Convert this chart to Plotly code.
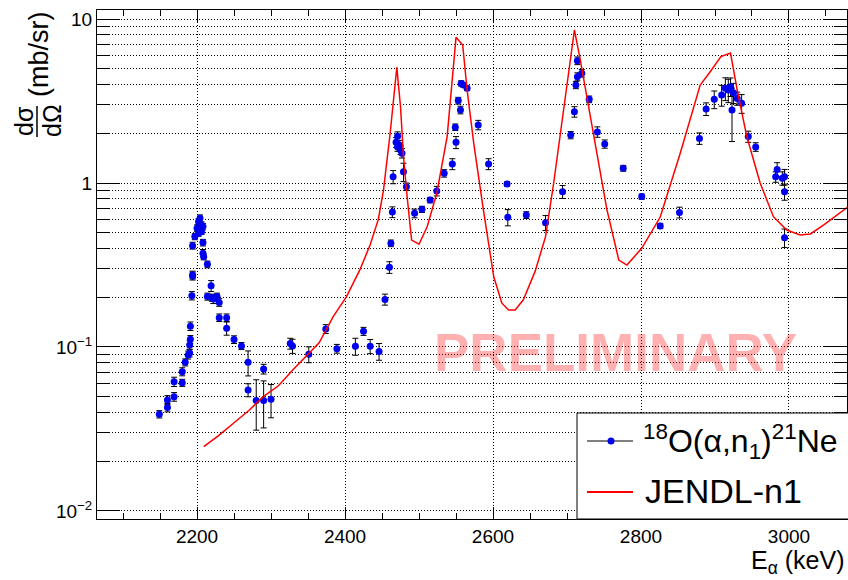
import plotly.graph_objects as go

# Measured differential cross section, 18O(alpha,n1)21Ne
e_alpha = [2149, 2160, 2160, 2169, 2169, 2180, 2180, 2184, 2188, 2190, 2190, 2191, 2191,
           2193, 2194, 2194, 2194, 2197, 2200, 2202, 2204, 2206, 2202, 2206, 2208, 2208,
           2208, 2209, 2214, 2214, 2219, 2220, 2222, 2227, 2230, 2230, 2240, 2240, 2250,
           2260, 2269, 2269, 2280, 2290, 2290, 2300, 2326, 2329, 2351, 2374, 2389, 2414,
           2425, 2434, 2446, 2454, 2460, 2462, 2464, 2465, 2469, 2471, 2471, 2474, 2475,
           2477, 2479, 2483, 2494, 2504, 2515, 2524, 2534, 2545, 2550, 2549, 2556, 2553,
           2557, 2560, 2565, 2580, 2594, 2619, 2620, 2645, 2671, 2694, 2705, 2710, 2712,
           2714, 2714, 2720, 2730, 2741, 2751, 2776, 2801, 2826, 2852, 2879, 2888, 2899,
           2909, 2914, 2918, 2921, 2923, 2925, 2930, 2936, 2945, 2955, 2982, 2984, 2991,
           2994, 2994, 2994]
xsec = [0.0389, 0.0427, 0.0475, 0.0497, 0.0614, 0.0605, 0.0707, 0.0806, 0.0894, 0.0918,
        0.1028, 0.1114, 0.134, 0.2056, 0.271, 0.275, 0.415, 0.471, 0.530, 0.581, 0.609,
        0.555, 0.493, 0.505, 0.542, 0.433, 0.373, 0.355, 0.319, 0.203, 0.236, 0.200, 0.196,
        0.203, 0.187, 0.151, 0.151, 0.130, 0.111, 0.1014, 0.0806, 0.0547, 0.0471, 0.0471,
        0.0734, 0.048, 0.105, 0.1014, 0.0902, 0.1288, 0.0977, 0.101, 0.1247, 0.101, 0.094,
        0.195, 0.306, 0.429, 0.665, 1.09, 1.77, 1.93, 1.66, 1.70, 1.59, 1.52, 1.17, 0.95,
        0.653, 0.691, 0.787, 0.894, 1.146, 1.306, 1.77, 2.19, 2.79, 3.18, 4.05, 3.96, 3.78,
        2.26, 1.306, 0.986, 0.618, 0.638, 0.573, 0.885, 1.96, 2.72, 3.96, 4.45, 5.57, 4.67,
        3.24, 2.05, 1.73, 1.23, 0.826, 0.547, 0.662, 1.87, 2.83, 3.24, 3.44, 3.78, 3.69,
        3.87, 2.79, 3.55, 3.28, 3.06, 1.92, 1.66, 1.09, 1.21, 1.07, 1.09, 0.885, 0.464]
xsec_err = [0.002, 0.0025, 0.003, 0.003, 0.004, 0.003, 0.004, 0.004, 0.005, 0.005, 0.006,
            0.006, 0.008, 0.012, 0.015, 0.015, 0.02, 0.02, 0.025, 0.025, 0.03, 0.025, 0.02,
            0.02, 0.025, 0.02, 0.02, 0.015, 0.015, 0.01, 0.018, 0.01, 0.012, 0.01, 0.01,
            0.008, 0.008, 0.012, 0.006, 0.005, 0.014, 0.005, 0.016, 0.015, 0.005, 0.011,
            0.008, 0.01, 0.01, 0.008, 0.006, 0.012, 0.007, 0.01, 0.011, 0.015, 0.025, 0.02,
            0.05, 0.1, 0.12, 0.12, 0.1, 0.12, 0.1, 0.1, 0.15, 0.05, 0.04, 0.03, 0.03, 0.06,
            0.06, 0.1, 0.15, 0.1, 0.15, 0.15, 0.15, 0.12, 0.12, 0.15, 0.1, 0.03, 0.07, 0.03,
            0.06, 0.08, 0.1, 0.2, 0.2, 0.25, 0.3, 0.25, 0.15, 0.15, 0.1, 0.05, 0.03, 0.02,
            0.05, 0.15, 0.25, 0.4, 0.5, 0.6, 0.6, 0.5, 1.0, 0.5, 0.3, 0.4, 0.15, 0.1, 0.08,
            0.12, 0.1, 0.12, 0.1, 0.06]

# JENDL evaluation, n1 channel
jendl_e = [2209, 2230, 2250, 2270, 2290, 2310, 2330, 2350, 2365, 2384, 2402, 2420, 2434,
           2445, 2452, 2461, 2470, 2475, 2479, 2483, 2490, 2500, 2511, 2524, 2538, 2550,
           2559, 2565, 2574, 2587, 2601, 2612, 2621, 2630, 2641, 2657, 2671, 2682, 2695,
           2710, 2718, 2727, 2741, 2754, 2770, 2781, 2801, 2826, 2853, 2880, 2894, 2908,
           2921, 2930, 2943, 2961, 2979, 2997, 3015, 3029, 3047, 3065, 3080]
jendl_xs = [0.0247, 0.029, 0.0345, 0.041, 0.050, 0.058, 0.073, 0.090, 0.106, 0.153, 0.203,
            0.295, 0.42, 0.60, 0.906, 2.01, 5.08, 2.92, 1.45, 0.906, 0.449, 0.423, 0.541,
            0.866, 1.92, 7.73, 6.94, 3.69, 1.74, 0.685, 0.268, 0.185, 0.168, 0.168, 0.194,
            0.29, 0.471, 1.0, 2.79, 8.57, 5.62, 3.36, 1.52, 0.685, 0.339, 0.316, 0.40, 0.62,
            1.52, 3.96, 4.8, 5.9, 6.2, 3.69, 1.92, 1.0, 0.623, 0.517, 0.482, 0.489, 0.555,
            0.638, 0.717]

x_major = [2200, 2400, 2600, 2800, 3000]
y_major = [0.01, 0.1, 1, 10]
y_major_text = ["10<sup>\u22122</sup>", "10<sup>\u22121</sup>", "1", "10"]
y_minor = [m * d for d in (0.01, 0.1, 1) for m in range(2, 10)]

W, H = 848, 580
ML, MR, MT, MB = 97, 1, 10, 61
PW, PH = W - ML - MR, H - MT - MB


def px(x):
    return (x - ML) / PW


def py(y):
    return (H - MB - y) / PH


FONT = "Liberation Sans, Arial, Helvetica, sans-serif"

fig = go.Figure()
fig.add_trace(go.Scatter(
    x=e_alpha, y=xsec, mode="markers",
    marker=dict(color="#0000f0", size=7, line=dict(width=0)),
    error_y=dict(type="data", array=xsec_err, color="black", thickness=1, width=3),
    showlegend=False,
))
fig.add_trace(go.Scatter(
    x=jendl_e, y=jendl_xs, mode="lines",
    line=dict(color="#ff0000", width=1.5),
    showlegend=False,
))

dotted = "1px,2px"
fig.update_xaxes(
    range=[2064.8, 3078.4],
    tickmode="array", tickvals=x_major,
    ticks="inside", ticklen=12, tickcolor="black", tickwidth=1,
    minor=dict(dtick=50, tick0=2000, ticks="inside", ticklen=6, tickcolor="black",
               showgrid=False),
    showgrid=True, gridcolor="black", gridwidth=1, griddash=dotted,
    showline=True, linecolor="black", linewidth=1, mirror="allticks",
    zeroline=False,
    tickfont=dict(family=FONT, size=19, color="black"),
)
fig.update_yaxes(
    type="log", range=[-2.049, 1.055],
    tickmode="array", tickvals=y_major, ticktext=y_major_text,
    ticks="inside", ticklen=23, tickcolor="black", tickwidth=1,
    minor=dict(tickmode="array", tickvals=y_minor, ticks="inside", ticklen=13,
               tickcolor="black", showgrid=True, gridcolor="black", griddash=dotted,
               gridwidth=1),
    showgrid=True, gridcolor="black", gridwidth=1, griddash=dotted,
    showline=True, linecolor="black", linewidth=1, mirror="allticks",
    zeroline=False,
    tickfont=dict(family=FONT, size=19, color="black"),
)

shapes = []
annotations = []

# Y-axis title: fraction dsigma/dOmega followed by units
shapes.append(dict(type="line", xref="paper", yref="paper",
                   x0=px(37), x1=px(37), y0=py(106), y1=py(137),
                   line=dict(color="black", width=1.5)))
annotations += [
    dict(text="d\u03c3", x=px(24), y=py(121), textangle=-90, size=25),
    dict(text="d\u03a9", x=px(52), y=py(121), textangle=-90, size=25),
    dict(text="(mb/sr)", x=px(39), y=py(55), textangle=-90, size=27),
]

# X-axis title
annotations.append(dict(text="E<sub>\u03b1</sub> (keV)", x=px(847), y=py(562),
                        xanchor="right", size=25))

# PRELIMINARY watermark
annotations.append(dict(text="<b>PRELIMINARY</b>", x=px(615), y=py(352), size=53,
                        color="rgba(255,0,0,0.31)"))

# Legend box
shapes.append(dict(type="rect", xref="paper", yref="paper", layer="above",
                   x0=px(577), x1=px(852), y0=py(519), y1=py(413),
                   fillcolor="white", line=dict(color="black", width=1)))
shapes.append(dict(type="line", xref="paper", yref="paper", layer="above",
                   x0=px(587), x1=px(633), y0=py(441), y1=py(441),
                   line=dict(color="black", width=1)))
shapes.append(dict(type="circle", xref="paper", yref="paper", layer="above",
                   x0=px(607.5), x1=px(614.5), y0=py(444.5), y1=py(437.5),
                   fillcolor="#0000f0", line=dict(width=0)))
shapes.append(dict(type="line", xref="paper", yref="paper", layer="above",
                   x0=px(587), x1=px(633), y0=py(492), y1=py(492),
                   line=dict(color="#ff0000", width=2)))
annotations.append(dict(text="<sup>18</sup>O(\u03b1,n<sub>1</sub>)<sup>21</sup>Ne",
                        x=px(641), y=py(441), xanchor="left", size=32))
annotations.append(dict(text="JENDL-n1", x=px(643), y=py(491), xanchor="left", size=34))

ann_objs = []
for a in annotations:
    size = a.pop("size", 24)
    color = a.pop("color", "black")
    base = dict(xref="paper", yref="paper", showarrow=False,
                xanchor="center", yanchor="middle",
                font=dict(family=FONT, size=size, color=color))
    base.update(a)
    ann_objs.append(base)

fig.update_layout(
    width=W, height=H,
    margin=dict(l=ML, r=MR, t=MT, b=MB, pad=0),
    paper_bgcolor="white", plot_bgcolor="white",
    showlegend=False,
    shapes=shapes,
    annotations=ann_objs,
)

fig.write_html("out.html")
